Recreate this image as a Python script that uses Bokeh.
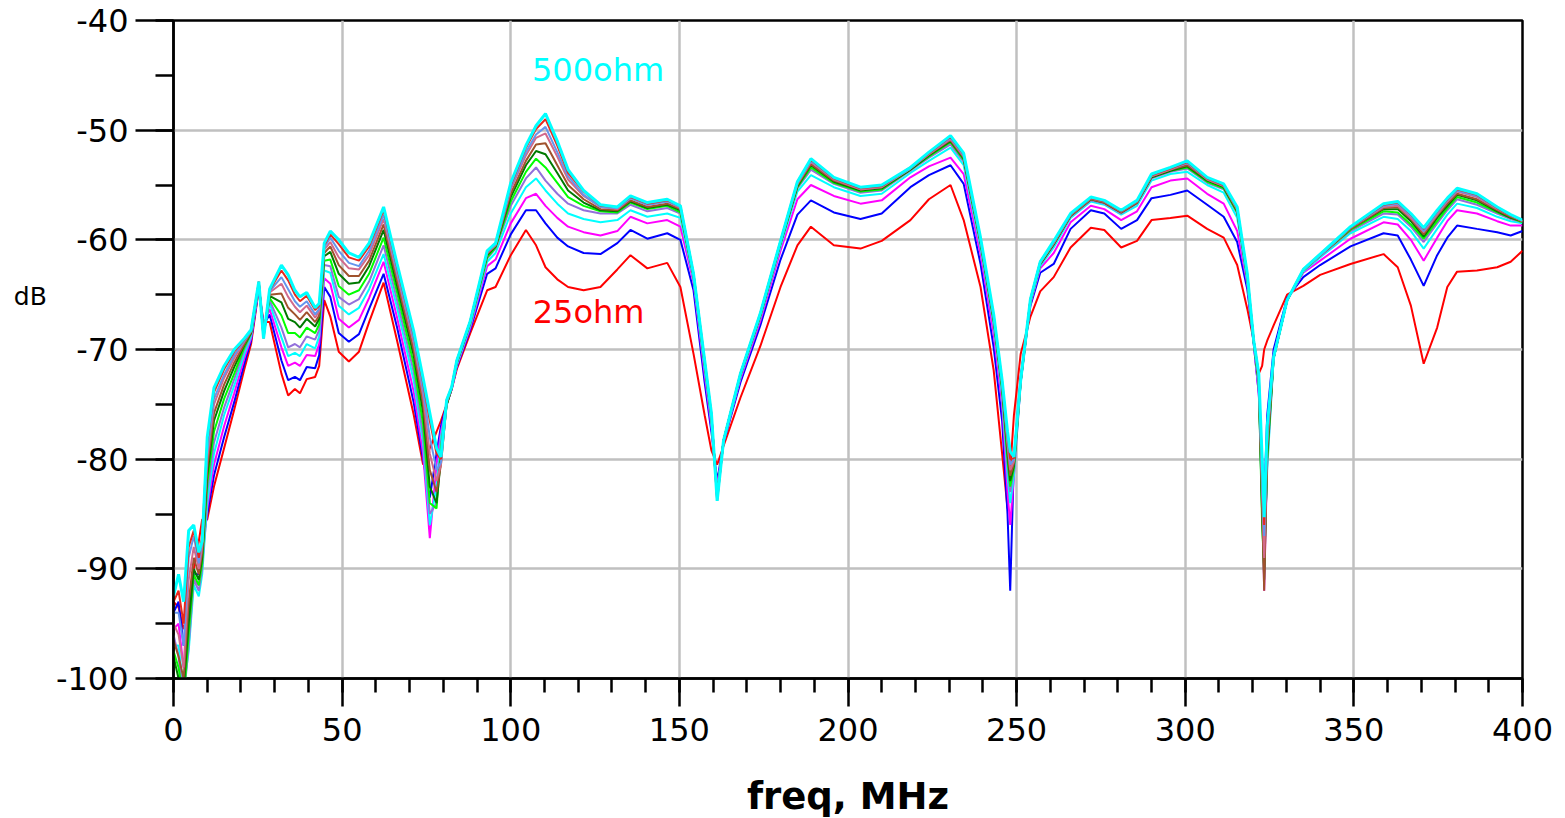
from bokeh.plotting import figure
from bokeh.models import Range1d, SingleIntervalTicker, Label, CustomJSTickFormatter
from bokeh.embed import file_html
from bokeh.resources import INLINE

freq = [0, 1.5, 3, 4.5, 6, 7.5, 8.5, 10, 12, 15,
        18, 21, 23, 25.3, 26.7, 28.5, 32, 34, 36, 37.5,
        39.5, 42, 43.2, 44.7, 46.5, 49, 52, 55, 58, 62.3,
        66.3, 71.2, 74, 76, 78, 79.3, 81, 82.5, 84, 88,
        93, 95.5, 100, 104.5, 107.5, 110.3, 113.8, 117, 121.6, 126.6,
        131.6, 135.5, 140.5, 146.4, 150.3, 154.2, 157.5, 159.5, 161.2, 163.1,
        168.1, 174, 180, 185, 189, 195.8, 203.7, 210, 218.5, 224,
        230.4, 234.3, 239.3, 243.2, 245.7, 247.3, 248.1, 249.2, 251.2, 254.1,
        257, 261, 266, 272, 276, 281, 285.7, 290, 295.6, 300.6,
        306.5, 311.4, 315.4, 318.4, 320.3, 321.8, 322.8, 323.4, 324.3, 326.2,
        330.2, 335, 340, 349, 358.8, 363, 366.9, 370.7, 374.7, 377.7,
        380.6, 386.5, 392.5, 396.5, 400]

r025 = [-93.0, -93.5, -95.5, -94.0, -90.0, -87.5, -85.5, -85.5, -82.5, -79.0,
        -75.5, -71.8, -69.5, -64.5, -67.5, -67.5, -72.2, -74.2, -73.6, -74.0,
        -72.7, -72.5, -71.5, -65.5, -67.0, -70.2, -71.1, -70.2, -67.5, -63.9,
        -69.2, -75.9, -80.5, -79.0, -77.5, -76.5, -75.0, -73.6, -71.8, -68.5,
        -64.6, -64.3, -61.4, -59.1, -60.5, -62.5, -63.6, -64.3, -64.6, -64.3,
        -62.7, -61.4, -62.6, -62.1, -64.3, -70.4, -76.0, -79.2, -80.5, -78.8,
        -74.4, -69.7, -64.3, -60.5, -58.8, -60.5, -60.8, -60.1, -58.2, -56.3,
        -55.0, -58.2, -64.3, -71.9, -79.5, -84.5, -81.0, -76.0, -70.4, -67.0,
        -64.7, -63.4, -60.7, -58.9, -59.1, -60.7, -60.1, -58.2, -58.0, -57.8,
        -59.0, -59.8, -62.3, -66.3, -69.2, -72.2, -71.5, -70.0, -69.2, -67.8,
        -65.0, -64.2, -63.2, -62.2, -61.3, -62.5, -66.0, -71.3, -68.0, -64.3,
        -62.9, -62.8, -62.5, -62.0, -61.0]

r050 = [-94.0, -93.0, -97.0, -95.0, -90.5, -90.5, -88.0, -85.0, -81.5, -78.0,
        -74.8, -71.3, -69.2, -64.4, -67.8, -66.8, -71.0, -72.8, -72.5, -72.8,
        -71.6, -71.7, -70.5, -64.3, -65.2, -68.5, -69.3, -68.6, -66.3, -63.1,
        -68.0, -74.8, -80.0, -83.5, -79.5, -77.0, -75.0, -73.6, -71.6, -68.2,
        -63.1, -62.6, -59.5, -57.3, -57.3, -58.5, -59.8, -60.6, -61.2, -61.3,
        -60.3, -59.1, -59.9, -59.4, -60.0, -64.6, -73.0, -77.5, -82.0, -78.5,
        -73.0, -67.8, -61.8, -57.7, -56.4, -57.5, -58.1, -57.6, -55.2, -54.1,
        -53.2, -54.9, -62.2, -69.8, -76.5, -85.0, -92.0, -80.0, -72.5, -66.0,
        -63.0, -62.2, -59.0, -57.3, -57.6, -59.0, -58.2, -56.2, -55.9, -55.5,
        -56.8, -57.9, -60.2, -64.5, -69.5, -74.0, -80.0, -84.0, -76.0, -70.0,
        -65.3, -63.4, -62.3, -60.6, -59.4, -59.6, -61.8, -64.2, -61.4, -59.8,
        -58.7, -59.0, -59.3, -59.6, -59.2]

r075 = [-95.5, -95.0, -99.0, -96.0, -91.0, -91.5, -89.5, -84.5, -80.5, -77.0,
        -74.0, -70.8, -69.0, -64.3, -68.0, -66.3, -69.8, -71.5, -71.2, -71.5,
        -70.5, -70.6, -69.5, -63.5, -64.0, -67.2, -68.0, -67.3, -65.3, -62.0,
        -67.1, -73.8, -79.5, -87.2, -80.5, -77.5, -75.0, -73.6, -71.5, -68.0,
        -62.4, -61.8, -58.5, -56.2, -55.8, -56.9, -58.0, -58.8, -59.3, -59.6,
        -59.2, -57.9, -58.5, -58.2, -58.8, -63.9, -72.3, -77.0, -82.5, -78.4,
        -72.7, -67.4, -61.0, -56.3, -55.0, -56.0, -56.7, -56.4, -54.3, -53.3,
        -52.5, -54.0, -61.3, -68.6, -75.0, -83.0, -86.0, -81.5, -73.0, -65.8,
        -62.6, -61.2, -58.4, -56.9, -57.2, -58.2, -57.4, -55.2, -54.6, -54.4,
        -55.8, -56.7, -59.2, -64.0, -69.4, -74.0, -82.0, -92.0, -80.0, -70.5,
        -65.5, -63.0, -61.9, -59.9, -58.4, -58.6, -60.0, -61.9, -59.8, -58.3,
        -57.3, -57.6, -58.3, -58.7, -58.7]

r100 = [-97.0, -97.0, -101.0, -97.5, -91.5, -92.5, -90.5, -84.0, -79.5, -76.0,
        -73.3, -70.4, -68.8, -64.2, -68.3, -65.8, -68.9, -70.6, -70.3, -70.6,
        -69.5, -69.9, -68.8, -62.8, -63.0, -66.0, -66.8, -66.2, -64.5, -61.3,
        -66.2, -72.8, -78.5, -86.0, -82.5, -78.0, -75.0, -73.5, -71.4, -67.8,
        -62.0, -61.2, -57.6, -55.2, -54.4, -55.5, -56.7, -57.6, -58.1, -58.4,
        -58.2, -57.3, -57.9, -57.6, -58.0, -63.6, -71.8, -76.6, -83.0, -78.3,
        -72.5, -67.1, -60.6, -55.6, -54.1, -55.2, -56.0, -55.8, -53.9, -52.8,
        -51.6, -53.2, -60.7, -67.8, -74.2, -81.5, -84.0, -81.5, -73.0, -65.7,
        -62.4, -60.7, -58.0, -56.5, -56.8, -57.7, -56.9, -54.6, -54.0, -53.8,
        -55.0, -55.7, -58.0, -63.8, -69.3, -73.5, -84.0, -88.0, -81.0, -70.8,
        -65.5, -62.9, -61.6, -59.4, -57.9, -58.1, -59.2, -60.8, -59.0, -57.7,
        -56.7, -57.1, -57.9, -58.3, -58.5]

r125 = [-96.0, -98.0, -102.0, -97.0, -91.0, -92.0, -90.0, -83.0, -78.5, -75.3,
        -72.7, -70.0, -68.6, -64.1, -68.5, -65.5, -68.0, -69.8, -69.5, -69.8,
        -68.8, -69.1, -68.2, -62.3, -62.4, -65.2, -65.9, -65.4, -63.8, -60.5,
        -65.5, -72.0, -77.8, -85.0, -84.0, -78.5, -75.0, -73.5, -71.3, -67.7,
        -61.7, -60.8, -56.9, -54.4, -53.4, -54.6, -55.8, -56.7, -57.3, -57.6,
        -57.6, -56.8, -57.4, -57.1, -57.6, -63.4, -71.5, -76.4, -83.2, -78.3,
        -72.4, -67.0, -60.4, -55.3, -53.6, -54.9, -55.7, -55.5, -53.7, -52.5,
        -51.3, -52.9, -60.4, -67.5, -73.8, -80.5, -83.0, -81.0, -73.0, -65.6,
        -62.3, -60.5, -57.9, -56.4, -56.7, -57.6, -56.7, -54.4, -53.8, -53.5,
        -54.8, -55.4, -57.6, -63.6, -69.3, -73.5, -85.0, -89.0, -80.5, -70.8,
        -65.5, -62.8, -61.5, -59.2, -57.6, -57.7, -58.8, -60.2, -58.5, -57.3,
        -56.3, -56.8, -57.6, -58.1, -58.4]

r150 = [-97.5, -99.0, -102.0, -96.0, -90.5, -91.5, -89.5, -82.2, -77.5, -74.5,
        -72.2, -69.8, -68.5, -64.0, -68.6, -65.3, -66.9, -68.5, -68.5, -68.9,
        -68.0, -68.5, -67.7, -61.9, -61.8, -64.2, -65.0, -64.6, -63.1, -59.8,
        -64.8, -71.3, -76.8, -84.0, -84.5, -79.0, -75.0, -73.5, -71.2, -67.6,
        -61.6, -60.7, -56.5, -53.8, -52.6, -53.4, -54.8, -56.1, -56.9, -57.4,
        -57.5, -56.6, -57.2, -56.9, -57.5, -63.3, -71.4, -76.2, -83.3, -78.3,
        -72.3, -66.9, -60.3, -55.2, -53.4, -54.8, -55.6, -55.4, -53.6, -52.4,
        -51.1, -52.7, -60.3, -67.4, -73.6, -80.0, -82.5, -80.8, -72.9, -65.6,
        -62.2, -60.4, -57.8, -56.3, -56.6, -57.5, -56.6, -54.3, -53.7, -53.4,
        -54.7, -55.3, -57.5, -63.5, -69.3, -73.0, -86.0, -90.0, -80.0, -70.8,
        -65.5, -62.8, -61.4, -59.1, -57.4, -57.5, -58.6, -59.9, -58.3, -57.1,
        -56.1, -56.6, -57.5, -58.0, -58.4]

r175 = [-98.0, -100.0, -101.0, -95.0, -90.0, -91.0, -89.0, -81.5, -76.5, -73.8,
        -71.6, -69.6, -68.5, -64.0, -68.7, -65.1, -65.7, -67.2, -67.5, -68.0,
        -67.2, -67.9, -67.2, -61.5, -61.1, -63.1, -64.0, -63.9, -62.4, -59.1,
        -64.2, -70.5, -75.7, -82.5, -84.0, -80.0, -75.0, -73.5, -71.2, -67.5,
        -61.4, -60.6, -56.1, -53.2, -51.9, -52.2, -53.9, -55.5, -56.6, -57.3,
        -57.4, -56.5, -57.1, -56.8, -57.3, -63.3, -71.3, -76.1, -83.4, -78.3,
        -72.3, -66.9, -60.3, -55.1, -53.2, -54.7, -55.5, -55.3, -53.6, -52.3,
        -51.0, -52.6, -60.2, -67.3, -73.4, -79.5, -82.0, -80.6, -72.9, -65.5,
        -62.2, -60.4, -57.8, -56.3, -56.6, -57.5, -56.6, -54.3, -53.7, -53.3,
        -54.6, -55.2, -57.4, -63.4, -69.3, -73.0, -85.0, -91.0, -79.5, -70.8,
        -65.5, -62.8, -61.4, -59.0, -57.2, -57.2, -58.3, -59.7, -58.0, -56.9,
        -55.9, -56.4, -57.4, -58.0, -58.3]

r200 = [-96.5, -98.0, -100.0, -93.0, -89.0, -90.5, -88.5, -80.8, -75.8, -73.2,
        -71.2, -69.5, -68.4, -63.9, -68.7, -65.0, -64.9, -66.2, -66.8, -67.3,
        -66.6, -67.5, -66.9, -61.2, -60.6, -62.3, -63.3, -63.3, -61.9, -58.6,
        -63.7, -70.0, -74.9, -81.0, -83.0, -80.5, -74.9, -73.5, -71.1, -67.5,
        -61.3, -60.5, -55.8, -52.8, -51.3, -51.2, -53.2, -55.0, -56.3, -57.2,
        -57.3, -56.4, -57.0, -56.7, -57.2, -63.2, -71.2, -76.0, -83.5, -78.3,
        -72.3, -66.8, -60.2, -55.0, -53.1, -54.6, -55.4, -55.2, -53.5, -52.2,
        -50.9, -52.5, -60.1, -67.2, -73.3, -79.0, -81.5, -80.4, -72.9, -65.5,
        -62.1, -60.3, -57.8, -56.3, -56.6, -57.5, -56.6, -54.2, -53.6, -53.2,
        -54.5, -55.1, -57.3, -63.4, -69.2, -72.8, -84.0, -92.0, -79.0, -70.8,
        -65.5, -62.8, -61.4, -59.0, -57.1, -57.0, -58.1, -59.5, -57.8, -56.7,
        -55.8, -56.3, -57.3, -57.9, -58.3]

r250 = [-95.0, -96.0, -99.0, -91.0, -88.0, -90.0, -88.0, -80.0, -75.0, -72.6,
        -70.8, -69.3, -68.3, -63.9, -68.8, -64.8, -64.0, -65.2, -66.1, -66.6,
        -66.0, -67.1, -66.5, -60.9, -60.2, -61.6, -62.6, -62.7, -61.4, -58.1,
        -63.2, -69.4, -74.2, -79.5, -82.0, -80.5, -74.8, -73.4, -71.1, -67.4,
        -61.2, -60.5, -55.4, -52.3, -50.7, -50.3, -52.4, -54.5, -56.0, -57.0,
        -57.2, -56.2, -56.8, -56.5, -57.1, -63.2, -71.2, -76.0, -83.6, -78.3,
        -72.2, -66.8, -60.2, -54.9, -52.9, -54.5, -55.4, -55.2, -53.5, -52.2,
        -50.8, -52.4, -60.0, -67.0, -73.1, -78.5, -81.0, -80.2, -72.8, -65.5,
        -62.1, -60.3, -57.7, -56.2, -56.5, -57.4, -56.5, -54.2, -53.6, -53.0,
        -54.5, -55.1, -57.2, -63.3, -69.2, -72.6, -83.0, -89.0, -78.5, -70.7,
        -65.5, -62.8, -61.4, -58.9, -57.0, -56.9, -58.0, -59.3, -57.7, -56.5,
        -55.6, -56.1, -57.2, -57.8, -58.3]

r300 = [-94.0, -94.0, -97.0, -89.0, -87.0, -89.5, -87.5, -79.3, -74.5, -72.3,
        -70.5, -69.2, -68.3, -63.9, -68.9, -64.7, -63.4, -64.5, -65.6, -66.1,
        -65.6, -66.8, -66.3, -60.7, -59.8, -61.0, -62.1, -62.4, -61.0, -57.7,
        -62.9, -69.0, -73.6, -78.0, -81.0, -80.3, -74.7, -73.4, -71.0, -67.4,
        -61.1, -60.4, -55.2, -52.0, -50.4, -49.7, -52.0, -54.2, -55.9, -57.0,
        -57.1, -56.2, -56.8, -56.5, -57.0, -63.1, -71.1, -75.9, -83.7, -78.3,
        -72.2, -66.7, -60.1, -54.8, -52.8, -54.4, -55.3, -55.1, -53.5, -52.1,
        -50.7, -52.3, -60.0, -67.0, -73.0, -78.2, -80.5, -80.0, -72.8, -65.4,
        -62.0, -60.2, -57.7, -56.2, -56.5, -57.4, -56.5, -54.1, -53.5, -53.0,
        -54.4, -55.0, -57.1, -63.2, -69.2, -72.5, -82.0, -87.0, -78.0, -70.7,
        -65.5, -62.7, -61.4, -58.9, -56.9, -56.7, -57.8, -59.2, -57.5, -56.4,
        -55.5, -56.0, -57.1, -57.8, -58.3]

r400 = [-93.0, -92.0, -95.0, -88.0, -86.5, -89.0, -87.0, -78.5, -73.9, -71.8,
        -70.2, -69.1, -68.2, -63.8, -69.0, -64.6, -62.8, -63.7, -65.0, -65.6,
        -65.1, -66.4, -66.0, -60.5, -59.5, -60.4, -61.6, -61.9, -60.6, -57.3,
        -62.5, -68.6, -73.0, -76.5, -79.5, -80.0, -74.6, -73.4, -71.0, -67.4,
        -61.1, -60.3, -55.0, -51.6, -49.9, -49.0, -51.4, -53.9, -55.6, -56.9,
        -57.0, -56.1, -56.7, -56.4, -56.9, -63.1, -71.0, -75.9, -83.8, -78.3,
        -72.2, -66.7, -60.1, -54.7, -52.7, -54.4, -55.3, -55.1, -53.4, -52.1,
        -50.6, -52.2, -59.9, -66.9, -72.9, -77.8, -80.0, -79.9, -72.8, -65.4,
        -62.0, -60.2, -57.7, -56.2, -56.5, -57.4, -56.5, -54.1, -53.5, -52.9,
        -54.4, -55.0, -57.1, -63.2, -69.2, -72.3, -81.0, -86.0, -77.5, -70.7,
        -65.5, -62.7, -61.3, -58.9, -56.8, -56.6, -57.7, -59.0, -57.4, -56.3,
        -55.4, -55.9, -57.1, -57.8, -58.3]

r500 = [-92.5, -90.5, -93.0, -86.5, -86.0, -88.5, -87.5, -78.0, -73.5, -71.5,
        -70.0, -69.0, -68.2, -63.8, -69.0, -64.5, -62.3, -63.2, -64.6, -65.2,
        -64.8, -66.2, -65.8, -60.3, -59.2, -60.0, -61.2, -61.6, -60.3, -57.0,
        -62.2, -68.3, -72.6, -75.8, -79.0, -79.8, -74.6, -73.4, -71.0, -67.4,
        -61.0, -60.3, -54.8, -51.4, -49.6, -48.5, -51.0, -53.6, -55.5, -56.8,
        -57.0, -56.0, -56.6, -56.3, -56.9, -63.1, -71.0, -75.8, -83.8, -78.3,
        -72.2, -66.7, -60.1, -54.7, -52.6, -54.3, -55.2, -55.0, -53.4, -52.0,
        -50.5, -52.1, -59.8, -66.8, -72.8, -77.5, -79.3, -79.8, -72.8, -65.4,
        -62.0, -60.1, -57.6, -56.1, -56.4, -57.3, -56.4, -54.0, -53.4, -52.8,
        -54.3, -54.9, -57.0, -63.1, -69.2, -72.2, -80.0, -85.3, -77.0, -70.7,
        -65.5, -62.7, -61.3, -58.8, -56.7, -56.5, -57.6, -58.9, -57.3, -56.2,
        -55.3, -55.8, -57.0, -57.7, -58.2]

series = [r025, r050, r075, r100, r125, r150, r175, r200, r250, r300, r400, r500]
colors = ["#FF0000", "#0000FF", "#FF00FF", "#00FFFF", "#9370DB", "#00FF00",
          "#007A00", "#A0522D", "#D2698C", "#6495ED", "#E8281E", "#00FFFF"]

x_ticks_step = 50
y_ticks_step = 10
label_top = "500ohm"
label_bottom = "25ohm"

FONT = "DejaVu Sans"

p = figure(frame_width=1349, frame_height=658,
           min_border_left=173, min_border_right=35,
           min_border_top=20, min_border_bottom=125,
           x_range=Range1d(0, 400), y_range=Range1d(-100, -40),
           output_backend="svg", toolbar_location=None,
           background_fill_color="white", border_fill_color="white")

p.xaxis.ticker = SingleIntervalTicker(interval=x_ticks_step, num_minor_ticks=5)
p.yaxis.ticker = SingleIntervalTicker(interval=y_ticks_step, num_minor_ticks=2)
p.xaxis.formatter = CustomJSTickFormatter(code="return tick.toFixed(0);")
p.yaxis.formatter = CustomJSTickFormatter(code="return tick.toFixed(0);")

for ax in (p.xaxis, p.yaxis):
    ax.axis_line_color = "black"
    ax.axis_line_width = 2.5
    ax.major_tick_line_color = "black"
    ax.major_tick_line_width = 2.5
    ax.minor_tick_line_color = "black"
    ax.minor_tick_line_width = 2.5
    ax.major_tick_in = 0
    ax.minor_tick_in = 0
    ax.major_label_text_font = FONT
    ax.major_label_text_font_size = "32px"
    ax.major_label_text_color = "black"

p.xaxis.major_tick_out = 28
p.xaxis.minor_tick_out = 14
p.xaxis.major_label_standoff = 11
p.xaxis.axis_label = "freq, MHz"
p.xaxis.axis_label_text_font = FONT
p.xaxis.axis_label_text_font_size = "37px"
p.xaxis.axis_label_text_font_style = "bold"
p.xaxis.axis_label_text_color = "black"
p.xaxis.axis_label_standoff = 31

p.yaxis.major_tick_out = 38
p.yaxis.minor_tick_out = 18
p.yaxis.major_label_standoff = 7
p.yaxis.axis_label = "dB\n\n\n\n"
p.yaxis.axis_label_text_font = FONT
p.yaxis.axis_label_text_font_size = "25px"
p.yaxis.axis_label_text_font_style = "normal"
p.yaxis.axis_label_text_color = "black"
p.yaxis.axis_label_text_line_height = 0.92
p.yaxis.axis_label_standoff = 6
try:
    p.yaxis.axis_label_orientation = "horizontal"
except Exception:
    pass

p.xgrid.grid_line_color = "#C0C0C0"
p.ygrid.grid_line_color = "#C0C0C0"
p.xgrid.grid_line_width = 2.5
p.ygrid.grid_line_width = 2.5

p.outline_line_color = "black"
p.outline_line_width = 2.5
p.outline_line_alpha = 1.0

for i, (vals, col) in enumerate(zip(series, colors)):
    lw = 3 if i == len(series) - 1 else 2
    p.line(freq, vals, line_color=col, line_width=lw)

p.add_layout(Label(x=106.3, y=-44.5, text=label_top, text_color="#00FFFF",
                   text_font=FONT, text_font_size="32px",
                   text_baseline="middle", text_align="left"))
p.add_layout(Label(x=106.5, y=-66.6, text=label_bottom, text_color="#FF0000",
                   text_font=FONT, text_font_size="32px",
                   text_baseline="middle", text_align="left"))

open("out.html", "w").write(file_html(p, INLINE))
